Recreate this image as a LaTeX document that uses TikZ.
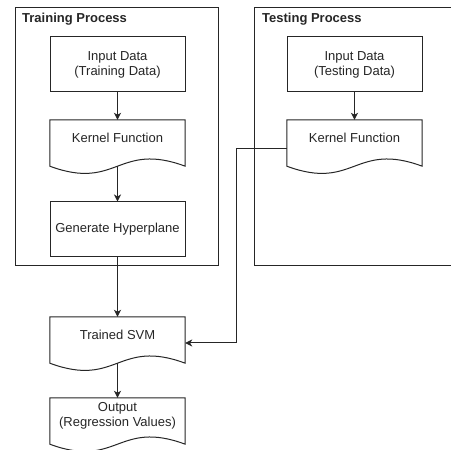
\documentclass[tikz,border=0pt]{standalone}
\usepackage{fontspec}
\setmainfont{Liberation Sans}
\usepackage{tikz}
\usetikzlibrary{arrows.meta,calc,positioning}

% document shape: box with a wavy bottom edge
\newcommand{\docnode}[3]{%
  \node[docbox] (#1) at (#2) {#3};
  \draw[line] (#1.north west) -- (#1.north east) -- ([yshift=-10pt]#1.south east)
    .. controls ([xshift=-67.5pt,yshift=15pt]#1.south east) and ([xshift=67.5pt,yshift=-35pt]#1.south west)
    .. ([yshift=-10pt]#1.south west) -- cycle;
  \coordinate (#1-b) at ([yshift=-10pt]#1.south);
}

\begin{document}
\begin{tikzpicture}[x=1pt,y=1pt,
  line/.style={draw=black!85,line width=1pt},
  >={Stealth[length=7pt,width=7pt,inset=2pt]},
  procbox/.style={line,minimum width=135pt,minimum height=55pt,inner sep=0pt,align=center,font=\fontsize{13}{15}\selectfont,text=black!85},
  docbox/.style={minimum width=135pt,minimum height=36pt,inner sep=0pt,align=center,font=\fontsize{13}{15}\selectfont,text=black!85},
  title/.style={anchor=west,inner sep=0pt,font=\fontsize{13}{15}\selectfont\bfseries,text=black!85}]
  \useasboundingbox (0,0) rectangle (451,450);
  \fill[white] (0,0) rectangle (451,450);

  % the two process frames
  \draw[line] (15,442) rectangle (218,184);
  \draw[line] (254,442) rectangle (470,184);
  \node[title] (traintitle) at (22,431) {Training Process};
  \node[title] (testtitle) at (262,431) {Testing Process};

  % training side
  \node[procbox] (tin) at (117.5,385.5) {Input Data\\(Training Data)};
  \docnode{tker}{117.5,312}{Kernel Function}
  \node[procbox] (tgen) at (117.5,220.5) {Generate Hyperplane};

  % testing side
  \node[procbox] (sin) at (354.5,385.5) {Input Data\\(Testing Data)};
  \docnode{sker}{354.5,312}{Kernel Function}

  % results
  \docnode{svm}{117.5,115}{Trained SVM}
  \docnode{out}{117.5,34}{Output\\(Regression Values)}

  \draw[line,->] (tin.south) -- (tker.north);
  \draw[line,->] (tker-b) -- (tgen.north);
  \draw[line,->] (tgen.south) -- (svm.north);
  \draw[line,->] (svm-b) -- (out.north);
  \draw[line,->] (sin.south) -- (sker.north);
  \draw[line,->] ([yshift=-11pt]sker.west) -- ++(-50,0) |- ([yshift=-8pt]svm.east);
\end{tikzpicture}
\end{document}
